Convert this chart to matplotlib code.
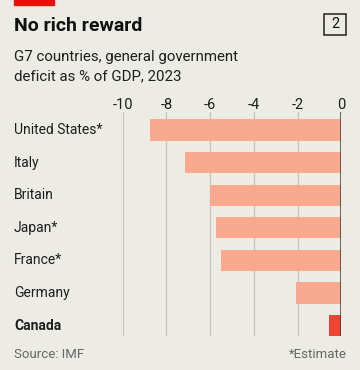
import matplotlib.pyplot as plt
import matplotlib.transforms as mtransforms
from matplotlib.patches import Rectangle

plt.rcParams['font.family'] = ['Roboto', 'DejaVu Sans']

countries = ["United States*", "Italy", "Britain", "Japan*", "France*", "Germany", "Canada"]
deficit = [-8.76, -7.16, -6.02, -5.74, -5.49, -2.09, -0.56]
ticks = [-10, -8, -6, -4, -2, 0]
tick_labels = ["-10", "-8", "-6", "-4", "-2", "0"]

BG = "#ecebe4"
W, H = 360, 370

fig = plt.figure(figsize=(3.6, 3.7), dpi=100, facecolor=BG)

# axes placed in pixel terms
ax_left, ax_right, ax_top, ax_bottom = 122.7, 341.3, 112, 336
ax = fig.add_axes([ax_left / W, 1 - ax_bottom / H, (ax_right - ax_left) / W, (ax_bottom - ax_top) / H])
ax.set_facecolor(BG)

colors = ["#f9a98e"] * 6 + ["#ef4530"]
ax.barh(range(len(countries)), deficit, height=0.65, color=colors, zorder=2)
ax.set_xlim(-10, 0)
ax.set_ylim(6.32, -0.55)

for t in ticks[:-1]:
    ax.axvline(t, color="#c9c7bf", lw=1, zorder=1)
ax.axvline(0, color="#3b3b3b", lw=1.8, zorder=3)

for s in ax.spines.values():
    s.set_visible(False)
ax.set_yticks([])
ax.set_xticks([])

# tick labels at top
for t, lab in zip(ticks, tick_labels):
    fig.text((ax_left + (t + 10) / 10 * (ax_right - ax_left)) / W, 1 - 105 / H, lab,
             ha="center", va="center", fontsize=10.5, color="#1e1e1e")

# country labels
trans = mtransforms.blended_transform_factory(fig.transFigure, ax.transData)
for i, c in enumerate(countries):
    ax.text(14 / W, i, c, transform=trans, ha="left", va="center", fontsize=10,
            color="#1e1e1e", fontweight="bold" if c == "Canada" else "normal")

# header
fig.patches.append(Rectangle((14 / W, 1 - 5 / H), 40 / W, 5 / H, transform=fig.transFigure,
                             color="#e3120b", zorder=5))
fig.text(14 / W, 1 - 26 / H, "No rich reward", ha="left", va="center", fontsize=14,
         fontweight="bold", color="#111111")
fig.patches.append(Rectangle((324 / W, 1 - 35 / H), 22 / W, 21 / H, transform=fig.transFigure,
                             fill=False, ec="#222222", lw=1.1))
fig.text(335 / W, 1 - 24.5 / H, "2", ha="center", va="center", fontsize=10.5, color="#111111")
fig.text(14 / W, 1 - 57 / H, "G7 countries, general government", ha="left", va="center",
         fontsize=10.8, color="#1e1e1e")
fig.text(14 / W, 1 - 76 / H, "deficit as % of GDP, 2023", ha="left", va="center",
         fontsize=10.8, color="#1e1e1e")

# footer
fig.text(14 / W, 1 - 355 / H, "Source: IMF", ha="left", va="center", fontsize=9.5, color="#666666")
fig.text(347 / W, 1 - 355 / H, "*Estimate", ha="right", va="center", fontsize=9.5, color="#666666")

fig.savefig("out.png", dpi=100, facecolor=BG)
